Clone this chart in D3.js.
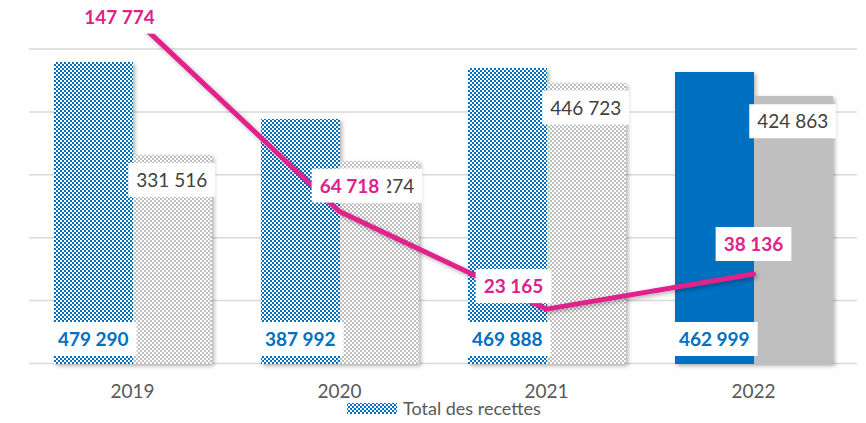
<!DOCTYPE html>
<html><head><meta charset="utf-8">
<script src="https://cdn.jsdelivr.net/npm/d3@7/dist/d3.min.js"></script>
<style>
html,body{margin:0;padding:0;background:#fff;}
svg{display:block;font-family:Lato,"Open Sans",sans-serif;}
</style></head>
<body>
<svg id="chart" width="866" height="423"></svg>
<script>
// ---- data ----
const years = ["2019", "2020", "2021", "2022"];
const totalRecettes = [479290, 387992, 469888, 462999];
const secondSeries = [331516, 322274, 446723, 424863];
const lineSeries = [147774, 64718, 23165, 38136];
const gridTicks = [0, 100000, 200000, 300000, 400000, 500000];
const legendLabel = "Total des recettes";
// label nudges for the line labels (layout, px)
const lineLabelDx = [-13, 10, -33, 0];
const lineLabelDy = [0, -26, -23, -30];

const fmt = v => d3.format(",")(v).replace(/,/g, " ");

const svg = d3.select("#chart");
const plot = {left: 29, right: 857, top: 49, bottom: 363.5};

const defs = svg.append("defs");
function checker(id, bg) {
  const p = defs.append("pattern").attr("id", id).attr("patternUnits", "userSpaceOnUse")
    .attr("width", 4).attr("height", 4);
  p.append("rect").attr("width", 4).attr("height", 4).attr("fill", bg).attr("shape-rendering", "crispEdges");
  p.append("rect").attr("x", 0).attr("y", 0).attr("width", 2).attr("height", 2).attr("fill", "#fff").attr("shape-rendering", "crispEdges");
  p.append("rect").attr("x", 2).attr("y", 2).attr("width", 2).attr("height", 2).attr("fill", "#fff").attr("shape-rendering", "crispEdges");
}
checker("pBlue", "#0070C0");
checker("pGrey", "#BFBFBF");
const f = defs.append("filter").attr("id", "shadow").attr("x", "-20%").attr("y", "-20%").attr("width", "150%").attr("height", "150%");
f.append("feDropShadow").attr("dx", 2).attr("dy", 2).attr("stdDeviation", 2).attr("flood-color", "#000").attr("flood-opacity", 0.3);

const x = d3.scaleBand().domain(years).range([plot.left, plot.right])
  .paddingInner(50 / 207).paddingOuter(25 / 207);
const x1 = d3.scaleBand().domain(["a", "b"]).range([0, x.bandwidth()]);
const y = d3.scaleLinear().domain([0, 500000]).range([plot.bottom, plot.top]);
const y2 = d3.scaleLinear().domain([0, 134000]).range([plot.bottom, plot.top]);

// grid
svg.append("g").selectAll("line").data(gridTicks).join("line")
  .attr("x1", plot.left).attr("x2", plot.right)
  .attr("y1", d => y(d)).attr("y2", d => y(d))
  .attr("stroke", "#D9D9D9").attr("stroke-width", 1.5);

// bars
const bars = svg.append("g").attr("filter", "url(#shadow)");
years.forEach((yr, i) => {
  const xa = Math.round(x(yr) + x1("a")), xb = Math.round(x(yr) + x1("b"));
  const w = Math.round(x1.bandwidth());
  bars.append("rect")
    .attr("x", xa).attr("width", xb - xa)
    .attr("y", Math.round(y(totalRecettes[i]))).attr("height", Math.round(y(0)) - Math.round(y(totalRecettes[i])))
    .attr("fill", i === 3 ? "#0070C0" : "url(#pBlue)");
  bars.append("rect")
    .attr("x", xb).attr("width", w)
    .attr("y", Math.round(y(secondSeries[i]))).attr("height", Math.round(y(0)) - Math.round(y(secondSeries[i])))
    .attr("fill", i === 3 ? "#BFBFBF" : "url(#pGrey)");
});

function label(g, cx, cy, text, color, weight) {
  const grp = g.append("g");
  const r = grp.append("rect").attr("fill", "#fff");
  const t = grp.append("text").attr("x", cx).attr("y", cy + 7)
    .attr("text-anchor", "middle").attr("font-size", 19).attr("font-weight", weight)
    .attr("fill", color).text(text);
  const w = t.node().getComputedTextLength() + 16;
  r.attr("x", cx - w / 2).attr("y", cy - 17).attr("width", w).attr("height", 34);
}

const labels = svg.append("g");
// grey labels (inside end)
years.forEach((yr, i) => {
  label(labels, x(yr) + x1("b") + x1.bandwidth() / 2, y(secondSeries[i]) + 25, fmt(secondSeries[i]), "#404040", 400);
});
// blue labels (inside base)
years.forEach((yr, i) => {
  label(labels, x(yr) + x1("a") + x1.bandwidth() / 2, y(0) - 24.5, fmt(totalRecettes[i]), "#0070C0", 700);
});

// line
const cx = d => x(d) + x.bandwidth() / 2;
const line = d3.line().x((d, i) => cx(years[i])).y(d => y2(d));
svg.append("path").datum(lineSeries)
  .attr("d", line).attr("fill", "none").attr("stroke", "#E0218A")
  .attr("stroke-width", 5).attr("stroke-linejoin", "round").attr("stroke-linecap", "round")
  .attr("filter", "url(#shadow)");

const lineLabels = svg.append("g");
lineSeries.forEach((v, i) => {
  label(lineLabels, cx(years[i]) + lineLabelDx[i], y2(v) + lineLabelDy[i], fmt(v), "#E0218A", 700);
});

// x axis
const xAxis = svg.append("g").attr("transform", `translate(0,${plot.bottom})`)
  .call(d3.axisBottom(x).tickSize(0).tickPadding(0));
xAxis.select(".domain").remove();
xAxis.selectAll("text").attr("y", 34).attr("dy", 0)
  .attr("font-size", 19).attr("font-family", "Lato, sans-serif").attr("fill", "#595959");

// legend
const lg = svg.append("g");
lg.append("rect").attr("x", 347).attr("y", 403).attr("width", 50).attr("height", 11).attr("fill", "url(#pBlue)");
lg.append("text").attr("x", 403).attr("y", 415).attr("font-size", 18).attr("fill", "#595959").text(legendLabel);
</script>
</body></html>
